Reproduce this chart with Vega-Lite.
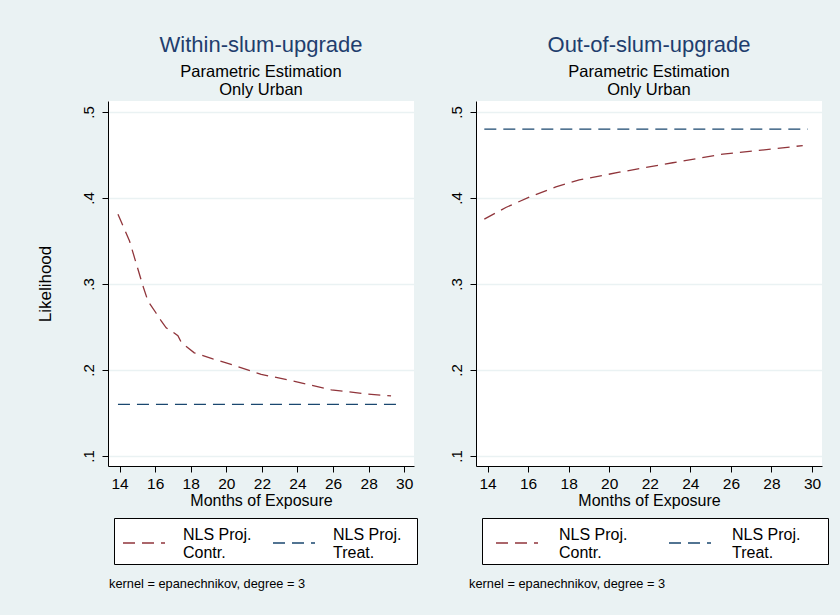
{
  "$schema": "https://vega.github.io/schema/vega-lite/v6.json",
  "background": "#eaf2f3",
  "padding": {"left": 36, "top": 33, "right": 20, "bottom": 30},
  "config": {
    "font": "Liberation Sans",
    "view": {"fill": "white", "stroke": null},
    "axis": {
      "domainColor": "black", "domainWidth": 1, "tickColor": "black", "tickWidth": 1, "tickSize": 6,
      "labelColor": "black", "titleColor": "black", "titleFontWeight": "normal",
      "labelFont": "Liberation Sans", "titleFont": "Liberation Sans",
      "gridColor": "#eaf2f3", "gridWidth": 1.3
    },
    "legend": {"labelFont": "Liberation Sans"},
    "title": {"font": "Liberation Sans", "subtitleFont": "Liberation Sans"}
  },
  "resolve": {"legend": {"color": "independent"}, "scale": {"color": "independent"}},
  "data": {"values": [
    {"panel": "within", "series": "NLS Proj.|Contr.", "x": 13.91, "y": 0.381},
    {"panel": "within", "series": "NLS Proj.|Contr.", "x": 14.56, "y": 0.350},
    {"panel": "within", "series": "NLS Proj.|Contr.", "x": 15.31, "y": 0.298},
    {"panel": "within", "series": "NLS Proj.|Contr.", "x": 15.6, "y": 0.280},
    {"panel": "within", "series": "NLS Proj.|Contr.", "x": 16.06, "y": 0.266},
    {"panel": "within", "series": "NLS Proj.|Contr.", "x": 16.34, "y": 0.257},
    {"panel": "within", "series": "NLS Proj.|Contr.", "x": 16.62, "y": 0.249},
    {"panel": "within", "series": "NLS Proj.|Contr.", "x": 17.0, "y": 0.244},
    {"panel": "within", "series": "NLS Proj.|Contr.", "x": 17.28, "y": 0.240},
    {"panel": "within", "series": "NLS Proj.|Contr.", "x": 17.47, "y": 0.232},
    {"panel": "within", "series": "NLS Proj.|Contr.", "x": 18.2, "y": 0.220},
    {"panel": "within", "series": "NLS Proj.|Contr.", "x": 19.24, "y": 0.213},
    {"panel": "within", "series": "NLS Proj.|Contr.", "x": 19.9, "y": 0.209},
    {"panel": "within", "series": "NLS Proj.|Contr.", "x": 21.96, "y": 0.195},
    {"panel": "within", "series": "NLS Proj.|Contr.", "x": 24.02, "y": 0.186},
    {"panel": "within", "series": "NLS Proj.|Contr.", "x": 25.9, "y": 0.177},
    {"panel": "within", "series": "NLS Proj.|Contr.", "x": 27.95, "y": 0.172},
    {"panel": "within", "series": "NLS Proj.|Contr.", "x": 29.26, "y": 0.170},
    {"panel": "within", "series": "NLS Proj.|Treat.", "x": 13.91, "y": 0.160},
    {"panel": "within", "series": "NLS Proj.|Treat.", "x": 29.83, "y": 0.160},
    {"panel": "out", "series": "NLS Proj.|Contr.", "x": 13.84, "y": 0.3755},
    {"panel": "out", "series": "NLS Proj.|Contr.", "x": 14.9, "y": 0.389},
    {"panel": "out", "series": "NLS Proj.|Contr.", "x": 16.06, "y": 0.401},
    {"panel": "out", "series": "NLS Proj.|Contr.", "x": 17.37, "y": 0.413},
    {"panel": "out", "series": "NLS Proj.|Contr.", "x": 18.52, "y": 0.421},
    {"panel": "out", "series": "NLS Proj.|Contr.", "x": 20.5, "y": 0.430},
    {"panel": "out", "series": "NLS Proj.|Contr.", "x": 23.13, "y": 0.441},
    {"panel": "out", "series": "NLS Proj.|Contr.", "x": 25.6, "y": 0.451},
    {"panel": "out", "series": "NLS Proj.|Contr.", "x": 28.06, "y": 0.457},
    {"panel": "out", "series": "NLS Proj.|Contr.", "x": 29.54, "y": 0.461},
    {"panel": "out", "series": "NLS Proj.|Treat.", "x": 13.84, "y": 0.480},
    {"panel": "out", "series": "NLS Proj.|Treat.", "x": 29.79, "y": 0.480}
  ]},
  "spacing": 31,
  "hconcat": [
    {
      "title": {"text": "kernel = epanechnikov, degree = 3", "orient": "bottom", "anchor": "start", "fontSize": 12.8, "fontWeight": "normal", "color": "black", "dx": 73, "offset": 13},
      "vconcat": [
        {
          "width": 306, "height": 365,
          "title": {"text": "Within-slum-upgrade", "subtitle": ["Parametric Estimation", "Only Urban"], "anchor": "middle", "frame": "group", "color": "#1f3e6e", "fontSize": 22, "fontWeight": "normal", "subtitleColor": "black", "subtitleFontSize": 16.5, "subtitleLineHeight": 18, "subtitlePadding": 7, "offset": 2},
          "transform": [{"filter": "datum.panel == 'within'"}],
          "mark": {"type": "line", "strokeDash": [12, 7], "strokeWidth": 1.3},
          "encoding": {
            "x": {"field": "x", "type": "quantitative", "scale": {"domain": [13.35, 30.55], "nice": false, "zero": false},
              "axis": {"values": [14, 16, 18, 20, 22, 24, 26, 28, 30], "title": "Months of Exposure", "grid": false, "labelFontSize": 15.5, "titleFontSize": 16, "labelPadding": 4, "titlePadding": 1}},
            "y": {"field": "y", "type": "quantitative", "scale": {"domain": [0.0884, 0.5128], "nice": false, "zero": false},
              "axis": {"values": [0.1, 0.2, 0.3, 0.4, 0.5], "title": "Likelihood", "grid": true, "labelExpr": "replace(format(datum.value, '.1f'), '0.', '.')", "labelAngle": 270, "labelFontSize": 15, "titleFontSize": 17, "labelPadding": 6, "titlePadding": 27}},
            "color": {"field": "series", "type": "nominal", "scale": {"domain": ["NLS Proj.|Contr.", "NLS Proj.|Treat."], "range": ["#90353b", "#1a476f"]},
              "legend": {"orient": "none", "legendX": 6, "legendY": 417, "direction": "horizontal", "columns": 2, "title": null, "symbolType": "stroke", "symbolSize": 1764, "symbolStrokeWidth": 1.3, "symbolDash": [12, 7], "symbolOffset": 5,
                "labelExpr": "datum.label == 'NLS Proj.|Treat.' ? ['NLS Proj.\u2800', 'Treat.'] : split(datum.label, '|')",
                "labelFontSize": 16, "labelBaseline": "bottom", "labelColor": "black", "labelOffset": 17, "columnPadding": 15, "padding": 3, "strokeColor": "black", "fillColor": "white"}}
          }
        }
      ]
    },
    {
      "title": {"text": "kernel = epanechnikov, degree = 3", "orient": "bottom", "anchor": "start", "fontSize": 12.8, "fontWeight": "normal", "color": "black", "dx": 20, "offset": 13},
      "vconcat": [
        {
          "width": 346, "height": 365,
          "title": {"text": "Out-of-slum-upgrade", "subtitle": ["Parametric Estimation", "Only Urban"], "anchor": "middle", "frame": "group", "color": "#1f3e6e", "fontSize": 22, "fontWeight": "normal", "subtitleColor": "black", "subtitleFontSize": 16.5, "subtitleLineHeight": 18, "subtitlePadding": 7, "offset": 2},
          "transform": [{"filter": "datum.panel == 'out'"}],
          "mark": {"type": "line", "strokeDash": [12, 7], "strokeWidth": 1.3},
          "encoding": {
            "x": {"field": "x", "type": "quantitative", "scale": {"domain": [13.43, 30.49], "nice": false, "zero": false},
              "axis": {"values": [14, 16, 18, 20, 22, 24, 26, 28, 30], "title": "Months of Exposure", "grid": false, "labelFontSize": 15.5, "titleFontSize": 16, "labelPadding": 4, "titlePadding": 1}},
            "y": {"field": "y", "type": "quantitative", "scale": {"domain": [0.0884, 0.5128], "nice": false, "zero": false},
              "axis": {"values": [0.1, 0.2, 0.3, 0.4, 0.5], "title": null, "grid": true, "labelExpr": "replace(format(datum.value, '.1f'), '0.', '.')", "labelAngle": 270, "labelFontSize": 15, "labelPadding": 6}},
            "color": {"field": "series", "type": "nominal", "scale": {"domain": ["NLS Proj.|Contr.", "NLS Proj.|Treat."], "range": ["#90353b", "#1a476f"]},
              "legend": {"orient": "none", "legendX": 6, "legendY": 417, "direction": "horizontal", "columns": 2, "title": null, "symbolType": "stroke", "symbolSize": 1764, "symbolStrokeWidth": 1.3, "symbolDash": [12, 7], "symbolOffset": 10,
                "labelExpr": "datum.label == 'NLS Proj.|Treat.' ? ['NLS Proj.\u2800\u2800', 'Treat.'] : split(datum.label, '|')",
                "labelFontSize": 16, "labelBaseline": "bottom", "labelColor": "black", "labelOffset": 20, "columnPadding": 30, "padding": 3, "strokeColor": "black", "fillColor": "white"}}
          }
        }
      ]
    }
  ]
}
